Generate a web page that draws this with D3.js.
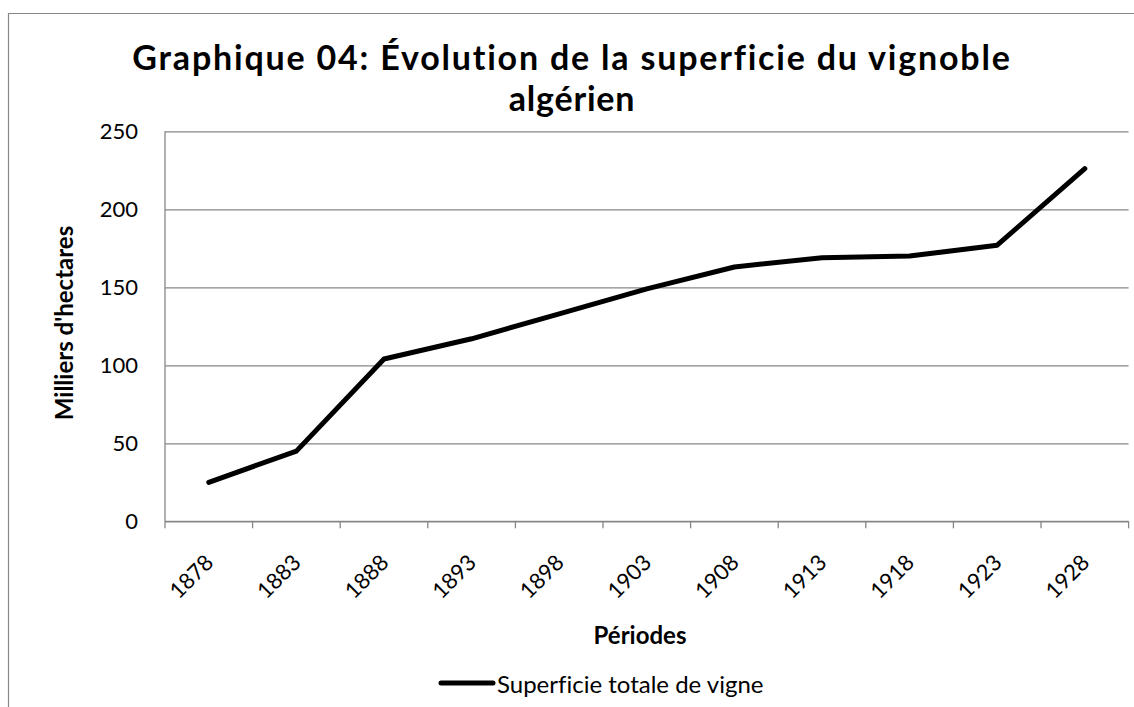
<!DOCTYPE html>
<html>
<head>
<meta charset="utf-8">
<script src="https://cdn.jsdelivr.net/npm/d3@7"></script>
<style>
  body { margin: 0; background: #fff; }
  svg { display: block; font-family: Lato, "Open Sans", sans-serif; font-variant-ligatures: none; }
</style>
</head>
<body>
<svg width="1134" height="707"></svg>
<script>
// Data
const periods = ["1878", "1883", "1888", "1893", "1898", "1903", "1908", "1913", "1918", "1923", "1928"];
const superficie = [25, 45, 104, 117, 133, 149, 163, 169, 170, 177, 226];
const yTicks = [0, 50, 100, 150, 200, 250];

const titleLines = ["Graphique 04: Évolution de la superficie du vignoble", "algérien"];
const yTitle = "Milliers d'hectares";
const xTitle = "Périodes";
const seriesName = "Superficie totale de vigne";

// Chart constants
const svg = d3.select("svg");
const plot = { left: 165, right: 1128.6, top: 131.3, bottom: 521.3 };
const GREY = "#878787";

const x = d3.scaleBand().domain(periods).range([plot.left, plot.right]).padding(0);
const y = d3.scaleLinear().domain([0, 250]).range([plot.bottom, plot.top]);

// Outer chart border (cropped on the right and bottom)
svg.append("path")
    .attr("d", "M8.5,707 V13.5 H1134")
    .attr("fill", "none")
    .attr("stroke", GREY)
    .attr("stroke-width", 1.2);

// Title, two lines
svg.append("g")
    .selectAll("text")
    .data(titleLines)
    .enter()
    .append("text")
    .attr("x", 572)
    .attr("y", (d, i) => 70 + i * 41)
    .attr("text-anchor", "middle")
    .attr("font-weight", "bold")
    .attr("font-size", 34)
    .attr("letter-spacing", (d, i) => i === 0 ? 1.8 : 0.8)
    .text((d) => d);

// Gridlines + y labels
const yAxis = svg.append("g")
    .attr("transform", `translate(${plot.left},0)`)
    .call(d3.axisLeft(y).tickValues(yTicks).tickSize(-(plot.right - plot.left)).tickPadding(27));
yAxis.select(".domain").remove();
yAxis.selectAll(".tick line").attr("stroke", GREY).attr("stroke-width", 1.3);
yAxis.selectAll(".tick text")
    .attr("font-family", "Lato, sans-serif")
    .attr("font-size", 22)
    .attr("fill", "#000");

// Vertical axis line
svg.append("line")
    .attr("x1", plot.left).attr("x2", plot.left)
    .attr("y1", y(250)).attr("y2", y(0))
    .attr("stroke", GREY).attr("stroke-width", 1.3);

// X axis line and tick marks between categories
svg.append("line")
    .attr("x1", plot.left).attr("x2", plot.right)
    .attr("y1", y(0)).attr("y2", y(0))
    .attr("stroke", GREY).attr("stroke-width", 1.3);

const boundaries = periods.map((p) => x(p)).concat([x(periods[periods.length - 1]) + x.bandwidth()]);
svg.append("g")
    .selectAll("line")
    .data(boundaries)
    .enter()
    .append("line")
    .attr("x1", (d) => d).attr("x2", (d) => d)
    .attr("y1", y(0)).attr("y2", y(0) + 7)
    .attr("stroke", GREY).attr("stroke-width", 1.3);

// Rotated category labels
svg.append("g")
    .selectAll("text")
    .data(periods)
    .enter()
    .append("text")
    .attr("transform", (d) => `translate(${x(d) + x.bandwidth() / 2 + 6},564) rotate(-45)`)
    .attr("text-anchor", "end")
    .attr("font-size", 22)
    .text((d) => d);

// Axis titles
svg.append("text")
    .attr("x", 640)
    .attr("y", 644)
    .attr("text-anchor", "middle")
    .attr("font-weight", "bold")
    .attr("font-size", 24)
    .text(xTitle);

svg.append("text")
    .attr("transform", "translate(73,323) rotate(-90)")
    .attr("text-anchor", "middle")
    .attr("font-weight", "bold")
    .attr("font-size", 24)
    .text(yTitle);

// Series line
const line = d3.line()
    .x((d, i) => x(periods[i]) + x.bandwidth() / 2)
    .y((d) => y(d));

svg.append("path")
    .datum(superficie)
    .attr("d", line)
    .attr("fill", "none")
    .attr("stroke", "#000")
    .attr("stroke-width", 5)
    .attr("stroke-linejoin", "round")
    .attr("stroke-linecap", "round");

// Legend
svg.append("line")
    .attr("x1", 441).attr("x2", 493)
    .attr("y1", 683).attr("y2", 683)
    .attr("stroke", "#000")
    .attr("stroke-width", 5)
    .attr("stroke-linecap", "round");

svg.append("text")
    .attr("x", 497)
    .attr("y", 693)
    .attr("font-size", 24)
    .text(seriesName);
</script>
</body>
</html>
